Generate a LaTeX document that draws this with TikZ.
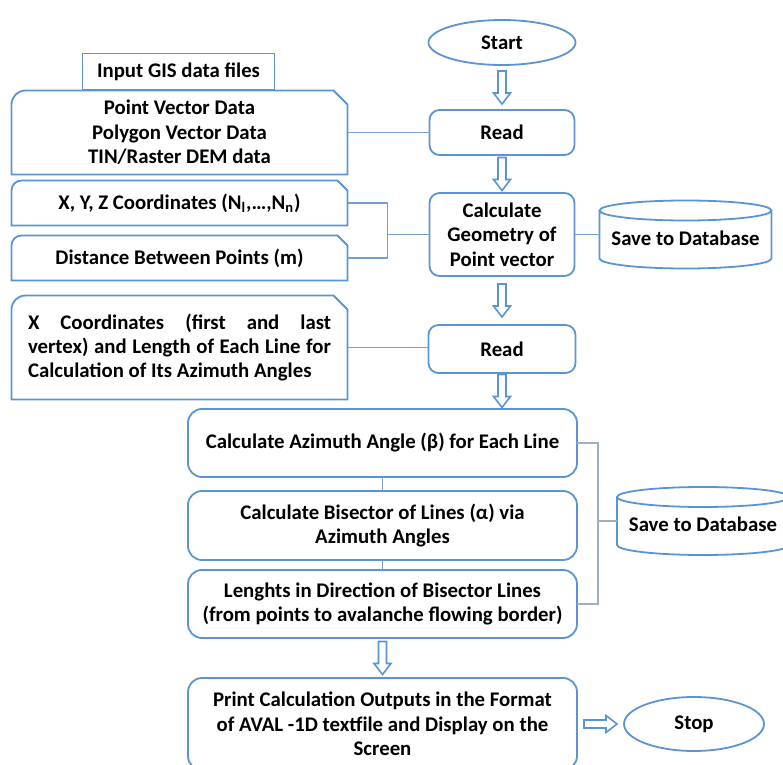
\documentclass[tikz,border=0pt]{standalone}
\usepackage{fontspec}
\setmainfont{Carlito}
\usepackage{tikz}
\usetikzlibrary{arrows.meta, calc, positioning, shapes.geometric}

\definecolor{boxblue}{RGB}{91,148,210}
\definecolor{linkblue}{RGB}{118,160,208}
\definecolor{linkgray}{RGB}{160,176,194}

% outline with a rounded top left corner and a cut top right corner
\newcommand{\tabframe}[2]{%
  \draw[boxblue, line width=0.9pt] (#1.south west) -- ([yshift=-#2]#1.north west)
    arc[start angle=180, end angle=90, radius=#2] -- ([xshift=-#2]#1.north east)
    -- ([yshift=-#2]#1.north east) -- (#1.south east) -- cycle;}
% drum outline round a database node
\newcommand{\drumframe}[1]{%
  \draw[boxblue, line width=0.9pt] ([yshift=-5pt]#1.north west) -- ([yshift=5pt]#1.south west)
    arc[start angle=180, end angle=360, x radius=43pt, y radius=5pt] -- ([yshift=-5pt]#1.north east)
    arc[start angle=0, end angle=180, x radius=43pt, y radius=5pt]
    arc[start angle=180, end angle=360, x radius=43pt, y radius=5pt];}

\begin{document}
\begin{tikzpicture}[font=\fontsize{10.4pt}{12.2pt}\selectfont\bfseries,
    box/.style={draw=boxblue, line width=0.9pt, rounded corners=5pt, fill=white, align=center, inner sep=2pt, outer sep=0pt},
    term/.style={draw=boxblue, line width=0.9pt, ellipse, fill=white, inner sep=1pt, outer sep=0pt},
    dbase/.style={minimum width=86pt, minimum height=34pt, inner sep=0pt, outer sep=0pt, text height=10.7pt, text depth=0pt},
    tab/.style={minimum width=168pt, align=center, inner sep=0pt, outer sep=0pt},
    blockarrow/.pic={\draw[boxblue, line width=0.8pt, fill=white] (-2pt,8.25pt) -- (-2pt,-2.75pt) -- (-4.25pt,-2.75pt) -- (0,-8.25pt) -- (4.25pt,-2.75pt) -- (2pt,-2.75pt) -- (2pt,8.25pt) -- cycle;},
    link/.style={linkblue, line width=0.8pt}]
    \useasboundingbox (0,0) rectangle (391.5pt,-382.5pt);

    % Main column
    \node[term, minimum width=73.5pt, minimum height=22.5pt] (start) at (251pt,-21.25pt) {Start};
    \node[box, minimum width=72.5pt, minimum height=22.5pt, below=22.5pt of start] (read1) {Read};
    \node[box, minimum width=72.5pt, minimum height=41.5pt, below=19pt of read1] (calc) {Calculate\\Geometry of\\Point vector};
    \node[box, minimum width=73.5pt, minimum height=24pt, below=24.5pt of calc] (read2) {Read};
    \node[dbase, right=12.5pt of calc] (db1) {Save to Database};
    \drumframe{db1}

    % Azimuth steps
    \node[box, rounded corners=7pt, minimum width=194.5pt, minimum height=34pt, below=18pt of read2, xshift=-59.75pt] (azim) {Calculate Azimuth Angle (β) for Each Line};
    \node[box, rounded corners=7pt, minimum width=194.5pt, minimum height=34.5pt, below=7pt of azim] (bisec) {Calculate Bisector of Lines (α) via\\Azimuth Angles};
    \node[box, rounded corners=7pt, minimum width=194.5pt, minimum height=34pt, below=5pt of bisec] (lengths) {Lenghts in Direction of Bisector Lines\\(from points to avalanche flowing border)};
    \node[box, rounded corners=7pt, minimum width=194.5pt, minimum height=46pt, below=20pt of lengths] (print) {Print Calculation Outputs in the Format\\of AVAL -1D textfile and Display on the\\Screen};
    \node[term, minimum width=70pt, minimum height=27pt, right=23.5pt of print] (stop) {Stop};
    \node[dbase, right=20pt of bisec, yshift=2.25pt] (db2) {Save to Database};
    \drumframe{db2}

    % Input data
    \node[tab, minimum height=42pt, left=41pt of read1] (data) {Point Vector Data\\Polygon Vector Data\\TIN/Raster DEM data};
    \tabframe{data}{7pt}
    \node[draw=boxblue, line width=0.9pt, fill=white, minimum width=96pt, minimum height=18pt, above=0pt of data, xshift=-0.5pt] (gisin) {Input GIS data files};
    \node[tab, minimum height=22.5pt, below=3pt of data] (xyz) {X, Y, Z Coordinates (N\textsubscript{l},…,N\textsubscript{n})};
    \tabframe{xyz}{5pt}
    \node[tab, minimum height=22.5pt, below=5pt of xyz] (dist) {Distance Between Points (m)};
    \tabframe{dist}{5pt}
    \node[tab, minimum height=52pt, below=7.5pt of dist, align=justify, text width=151.5pt] (xcoord) {X Coordinates (first and last\linebreak vertex) and Length of Each Line for\linebreak Calculation of Its Azimuth Angles};
    \tabframe{xcoord}{7pt}

    % Flow arrows
    \pic at ($(start.south)!0.5!(read1.north)$) {blockarrow};
    \pic at ($(read1.south)!0.5!(calc.north)$) {blockarrow};
    \pic at ($(calc.south)!0.5!(read2.north)$) {blockarrow};
    \pic at ($(read2.south)!0.5!(read2.south |- azim.north)$) {blockarrow};
    \pic at ($(lengths.south)!0.5!(print.north)$) {blockarrow};
    \pic[rotate=90] at ($(print.east)!0.5!(stop.west)$) {blockarrow};

    % Links
    \draw[link] (data) -- (read1);
    \draw[link] (xyz.east) -- ++(20pt,0) coordinate (jin) |- (dist.east);
    \draw[link] (jin |- calc.west) -- (calc.west);
    \draw[link] (xcoord.east) -- (xcoord.east -| read2.west);
    \draw[link] (calc) -- (db1);
    \draw[link] (azim) -- (bisec);
    \draw[link] (bisec) -- (lengths);
    \draw[link, linkgray] (azim.east) -- ++(10.5pt,0) coordinate (jout) |- (lengths.east);
    \draw[link, linkgray] (jout |- db2) -- (db2);
\end{tikzpicture}
\end{document}
